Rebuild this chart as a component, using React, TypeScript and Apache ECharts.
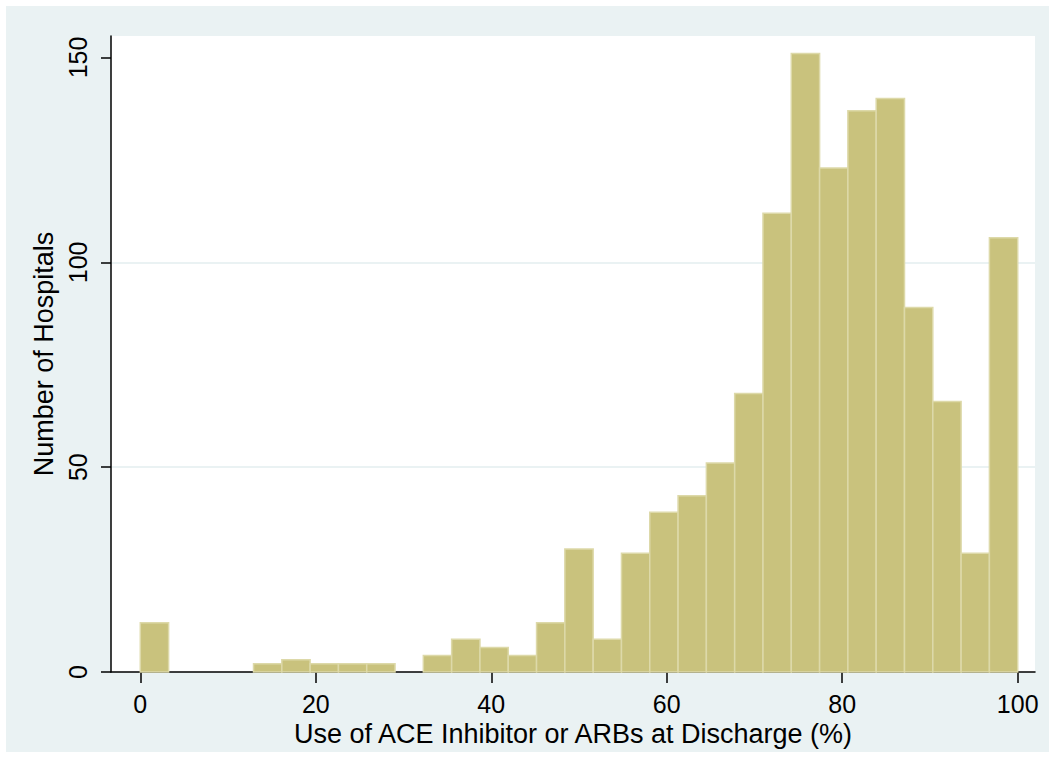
import React, { useEffect, useRef } from "react";
import * as echarts from "echarts";

// Histogram: 31 equal-width bins spanning 0–100 (%)
const binCount = 31;
const binRange = [0, 100];
const counts = [
  12, 0, 0, 0, 2, 3, 2, 2, 2, 0,
  4, 8, 6, 4, 12, 30, 8, 29, 39, 43,
  51, 68, 112, 151, 123, 137, 140, 89, 66, 29,
  106,
];
const xTicks = [0, 20, 40, 60, 80, 100];
const yTicks = [0, 50, 100, 150];
const xTitle = "Use of ACE Inhibitor or ARBs at Discharge (%)";
const yTitle = "Number of Hospitals";

export default function App() {
  const ref = useRef<HTMLDivElement>(null);
  useEffect(() => {
    if (!ref.current) return;
    const chart = echarts.init(ref.current, null, { renderer: "svg" });
    const w = (binRange[1] - binRange[0]) / binCount;
    const data = counts.map((c, i) => [binRange[0] + i * w, binRange[0] + (i + 1) * w, c]);
    const font = "'Liberation Sans', Arial, Helvetica, sans-serif";
    chart.setOption({
      animation: false,
      backgroundColor: "#ffffff",
      graphic: [
        {
          type: "rect",
          z: -10,
          silent: true,
          shape: { x: 6, y: 6, width: 1043, height: 746 },
          style: { fill: "#EAF2F3" },
        },
        {
          type: "rect",
          z: -9,
          silent: true,
          shape: { x: 111, y: 36, width: 924, height: 636 },
          style: { fill: "#ffffff" },
        },
      ],
      grid: { left: 111, right: 14, top: 36, bottom: 98, containLabel: false },
      xAxis: {
        type: "value",
        min: -3.34,
        max: 101.97,
        axisLine: { show: true, onZero: false, lineStyle: { color: "#000", width: 1.5 } },
        axisTick: { show: true, length: 11, customValues: xTicks, lineStyle: { color: "#000", width: 1.5 } },
        axisLabel: {
          customValues: xTicks,
          color: "#000",
          fontSize: 25,
          fontFamily: font,
          margin: 19,
        },
        splitLine: { show: false },
        name: xTitle,
        nameLocation: "middle",
        nameGap: 46,
        nameTextStyle: { color: "#000", fontSize: 27, fontFamily: font },
      },
      yAxis: {
        type: "value",
        min: 0,
        max: 155.25,
        interval: 50,
        axisLine: { show: true, onZero: false, lineStyle: { color: "#000", width: 1.5 } },
        axisTick: { show: true, length: 10, customValues: yTicks, lineStyle: { color: "#000", width: 1.5 } },
        axisLabel: {
          customValues: yTicks,
          rotate: 90,
          color: "#000",
          fontSize: 25,
          fontFamily: font,
          margin: 21,
        },
        splitLine: {
          show: true,
          showMinLine: false,
          showMaxLine: false,
          lineStyle: { color: "#EAF2F3", width: 2 },
        },
        name: yTitle,
        nameLocation: "middle",
        nameGap: 47,
        nameTextStyle: { color: "#000", fontSize: 27, fontFamily: font },
      },
      series: [
        {
          type: "custom",
          data,
          encode: { x: [0, 1], y: 2 },
          renderItem: (params: any, api: any) => {
            const c = api.value(2);
            if (!c) return null;
            const p0 = api.coord([api.value(0), c]);
            const p1 = api.coord([api.value(1), 0]);
            return {
              type: "rect",
              shape: { x: p0[0], y: p0[1], width: p1[0] - p0[0], height: p1[1] - p0[1] },
              style: { fill: "#C9C27D", stroke: "#DDD9A9", lineWidth: 1.5 },
            };
          },
        },
      ],
    });
    return () => chart.dispose();
  }, []);
  return (
    <div
      ref={ref}
      style={{ position: "absolute", left: 0, top: 0, width: 1049, height: 770 }}
    />
  );
}
